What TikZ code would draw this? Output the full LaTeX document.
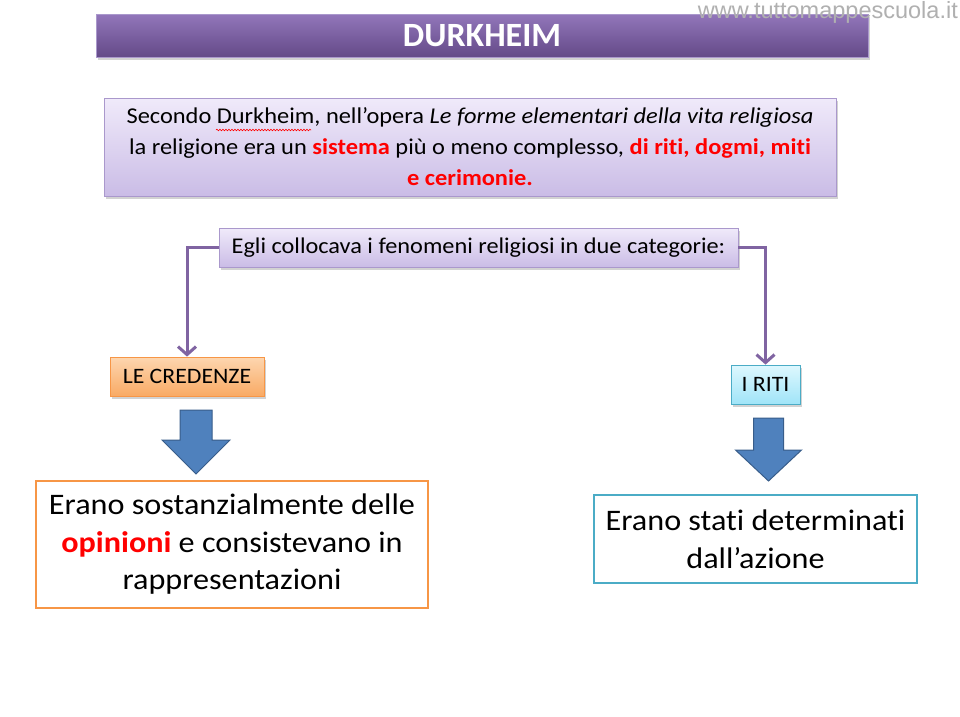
\documentclass[tikz,border=0pt]{standalone}
\usepackage{fontspec}
\setmainfont{Carlito}[FakeStretch=1.08,Ligatures=NoCommon]
\newfontfamily\titlefont{Carlito}
\newfontfamily\wmfont{Liberation Sans}
\usetikzlibrary{arrows.meta,shadows,decorations.pathmorphing}
\definecolor{purp}{RGB}{128,100,162}
\definecolor{titletop}{RGB}{146,118,186}
\definecolor{titlebot}{RGB}{100,74,136}
\definecolor{lavtop}{RGB}{240,234,250}
\definecolor{lavbot}{RGB}{202,188,230}
\definecolor{lavline}{RGB}{170,152,204}
\definecolor{orline}{RGB}{247,150,70}
\definecolor{ortop}{RGB}{253,214,176}
\definecolor{orbot}{RGB}{249,170,100}
\definecolor{cyline}{RGB}{75,172,198}
\definecolor{cytop}{RGB}{222,248,254}
\definecolor{cybot}{RGB}{160,228,248}
\definecolor{blfill}{RGB}{79,129,189}
\definecolor{blline}{RGB}{56,93,138}
\definecolor{wmgray}{RGB}{176,176,176}
\definecolor{hired}{RGB}{255,0,0}
\tikzset{
  sh/.style={drop shadow={opacity=0.35,shadow xshift=1.5pt,shadow yshift=-2.5pt}},
  titlebox/.style={sh,top color=titletop,bottom color=titlebot,draw=lavline,line width=0.8pt,
    minimum width=772pt,minimum height=43pt,inner sep=0pt,text=white,font=\titlefont\fontsize{34}{36}\selectfont\bfseries},
  lavbox/.style={sh,top color=lavtop,bottom color=lavbot,draw=lavline,line width=0.8pt,inner sep=0pt,align=center},
  orbox/.style={sh,top color=ortop,bottom color=orbot,draw=orline,line width=0.8pt,inner sep=0pt},
  cybox/.style={sh,top color=cytop,bottom color=cybot,draw=cyline,line width=0.8pt,inner sep=0pt},
  outbox/.style={fill=white,line width=2pt,inner sep=0pt,align=center,font=\fontsize{29.8}{37.5}\selectfont},
  conn/.style={draw=purp,line width=3pt,-{Straight Barb[length=8pt,width=18pt,line width=3pt]}},
  blockarrow/.style={fill=blfill,draw=blline,line width=1pt,line join=miter},
}
\begin{document}
\begin{tikzpicture}[x=1pt,y=-1pt]
\useasboundingbox (0,0) rectangle (960,716);
\fill[white] (0,0) rectangle (960,716);

\node[titlebox] (title) at (482,35.5) {DURKHEIM};
\node[anchor=north east,inner sep=0pt,text=wmgray,font=\wmfont\fontsize{23.5}{25}\selectfont] (wm) at (958,1) {www.tuttomappescuola.it};

\node[lavbox,minimum width=732pt,minimum height=98pt,font=\fontsize{22.6}{31}\selectfont] (intro) at (470,147)
 {Secondo Durkheim, nell’opera \textit{Le forme elementari della vita religiosa}\\
  la religione era un \textcolor{hired}{\textbf{sistema}} più o meno complesso, \textcolor{hired}{\textbf{di riti, dogmi, miti}}\\
  \textcolor{hired}{\textbf{e cerimonie.}}};

\node[lavbox,minimum width=519pt,minimum height=39pt,font=\fontsize{22.5}{25}\selectfont] (cat) at (478.5,247.5)
 {Egli collocava i fenomeni religiosi in due categorie:};

\node[orbox,minimum width=154pt,minimum height=39pt,font=\fontsize{22}{24}\selectfont] (cred) at (187,376.5) {LE CREDENZE};
\node[cybox,minimum width=69pt,minimum height=39pt,font=\fontsize{22}{24}\selectfont] (riti) at (765.5,384.5) {I RITI};

\draw[conn] (cat.west) -| (cred.north);
\draw[conn] (cat.east) -| (riti.north);

\node[outbox,draw=orline,minimum width=392pt,minimum height=127pt] (op) at (232,544.5)
 {Erano sostanzialmente delle\\ \textcolor{hired}{\textbf{opinioni}} e consistevano in\\ rappresentazioni};
\node[outbox,draw=cyline,minimum width=323pt,minimum height=88pt] (az) at (755.5,539)
 {Erano stati determinati\\ dall’azione};

% block arrows
\coordinate (la) at (196,410);
\draw[blockarrow] ([xshift=-16pt]la) -- ([xshift=16pt]la) -- ([xshift=16pt,yshift=-30pt]la) -- ([xshift=34pt,yshift=-30pt]la)
  -- ([yshift=-64pt]la) -- ([xshift=-34pt,yshift=-30pt]la) -- ([xshift=-16pt,yshift=-30pt]la) -- cycle;
\coordinate (ra) at (768.5,418);
\draw[blockarrow] ([xshift=-15pt]ra) -- ([xshift=15pt]ra) -- ([xshift=15pt,yshift=-32pt]ra) -- ([xshift=33pt,yshift=-32pt]ra)
  -- ([yshift=-63pt]ra) -- ([xshift=-33pt,yshift=-32pt]ra) -- ([xshift=-15pt,yshift=-32pt]ra) -- cycle;

% spelling underline
\draw[hired,line width=0.6pt,decorate,decoration={snake,amplitude=0.8pt,segment length=3pt}] (216,130) -- (311,130);
\end{tikzpicture}
\end{document}
